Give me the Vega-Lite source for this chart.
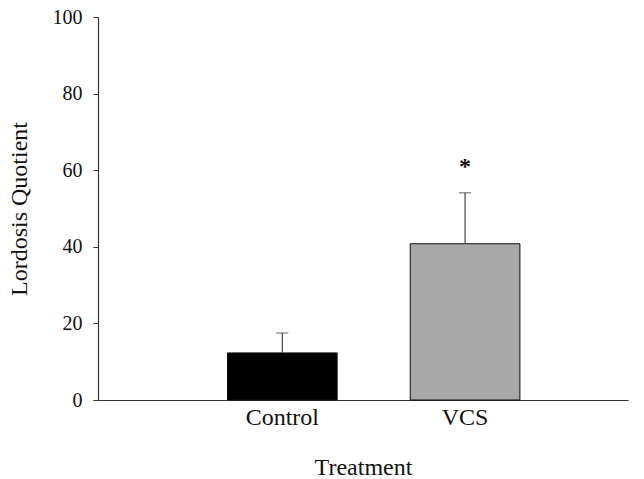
{
  "$schema": "https://vega.github.io/schema/vega-lite/v6.json",
  "autosize": "none",
  "width": 530,
  "height": 383,
  "padding": {"left": 98, "top": 17, "right": 16, "bottom": 79},
  "background": "white",
  "config": {"view": {"stroke": null}, "font": "Liberation Serif"},
  "data": {"values": [
    {"treatment": "Control", "lq": 12.3, "upper": 17.5, "mark": ""},
    {"treatment": "VCS", "lq": 40.8, "upper": 54.1, "mark": "*"}
  ]},
  "encoding": {
    "x": {
      "field": "treatment", "type": "nominal", "sort": null,
      "scale": {"paddingInner": 0.4, "paddingOuter": 0.65, "align": 0.545},
      "axis": {"title": "Treatment", "labelAngle": 0, "ticks": false, "domainColor": "#333", "domainWidth": 1.2,
        "labelFont": "Liberation Serif", "labelFontSize": 24, "labelColor": "#111", "labelPadding": 5,
        "titleFont": "Liberation Serif", "titleFontSize": 24, "titleFontWeight": "normal", "titleColor": "#111", "titlePadding": 26}
    }
  },
  "layer": [
    {
      "mark": {"type": "bar", "stroke": "#111", "strokeWidth": 1},
      "encoding": {
        "y": {"field": "lq", "type": "quantitative", "scale": {"domain": [0, 100]},
          "axis": {"title": "Lordosis Quotient", "values": [0, 20, 40, 60, 80, 100], "grid": false,
            "tickSize": 5, "tickColor": "#333", "domainColor": "#333", "domainWidth": 1.2,
            "labelFont": "Liberation Serif", "labelFontSize": 20, "labelColor": "#111", "labelPadding": 11,
            "titleFont": "Liberation Serif", "titleFontSize": 24, "titleFontWeight": "normal", "titleColor": "#111", "titlePadding": 21}},
        "color": {"field": "treatment", "type": "nominal", "scale": {"domain": ["Control", "VCS"], "range": ["#000000", "#a8a8a8"]}, "legend": null}
      }
    },
    {
      "mark": {"type": "rule", "color": "#444", "strokeWidth": 1.2},
      "encoding": {"y": {"field": "lq", "type": "quantitative"}, "y2": {"field": "upper"}}
    },
    {
      "mark": {"type": "tick", "color": "#444", "size": 12, "thickness": 1.2},
      "encoding": {"y": {"field": "upper", "type": "quantitative"}}
    },
    {
      "mark": {"type": "text", "font": "Liberation Serif", "fontSize": 24, "fontWeight": "bold", "baseline": "middle", "dy": -26, "color": "#111"},
      "encoding": {"y": {"field": "upper", "type": "quantitative"}, "text": {"field": "mark"}}
    }
  ]
}
